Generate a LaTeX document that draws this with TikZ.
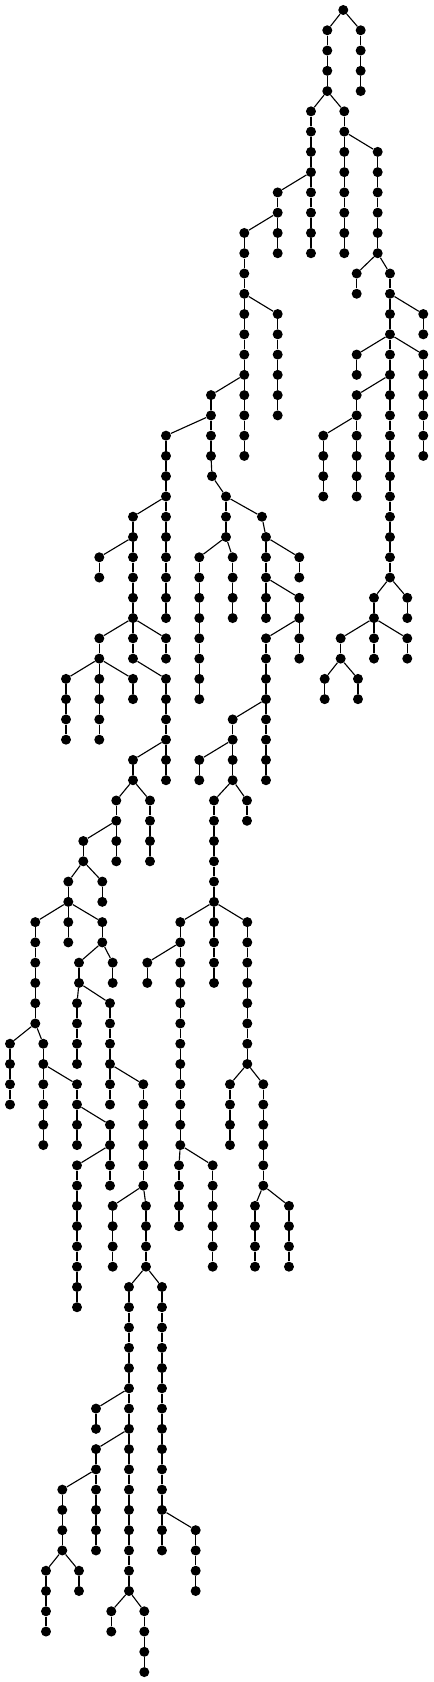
\documentclass[tikz,border=0pt]{standalone}
\usepackage{tikz}

\begin{document}
\begin{tikzpicture}[x=0.25mm,y=-5.0675mm,
  vtx/.style={circle,fill=black,inner sep=0pt,minimum size=2.5mm},
  link/.style={line width=0.8pt,black},
]
\useasboundingbox (0,-0.4933) rectangle (434,82.49);
\node[vtx] (r) at (343.3,0) {};
% chains: name / x / first level / last level / parent
\foreach \nm/\xx/\la/\lb/\pa in {
  c1/327.3/1/4/r, c2/360.7/1/4/r,
  c3/311/5/12/c1-4, c4/344.3/5/12/c1-4,
  c5/377.7/7/12/c4-6, c6/277.7/9/12/c3-8,
  c7/244.3/11/22/c6-10, c8/356.7/13/14/c5-12, c9/390/13/28/c5-12,
  c10/277.7/15/20/c7-14, c11/423.3/15/16/c9-14,
  c12/356.7/17/18/c9-16, c13/423.3/17/22/c9-16,
  c14/211/19/22/c7-18, c15/356.7/19/24/c9-18,
  c14b/212/23/23/c14-22, c14c/226/24/26/c14b-23,
  c16/166/21/30/c14-20, c17/323.3/21/24/c15-20,
  c18a/262/25/25/c14c-24, c18/266/26/30/c18a-25,
  c19/133/25/32/c16-24, c20/99.3/27/28/c19-26,
  c21/199.3/27/34/c14c-26, c22/232.7/27/30/c14c-26, c23/299.3/27/28/c18-26,
  c24/374/29/32/c9-28, c25/407.3/29/30/c9-28, c26/299.3/29/32/c18-28,
  c27/99.3/31/36/c19-30, c28/166/31/32/c19-30, c29/266/31/38/c26-30,
  c30/340.7/31/32/c24-30, c31/407.3/31/32/c24-30,
  c32/66/33/36/c27-32, c33/133/33/34/c27-32, c34/166/33/38/c19-32,
  c35/324.7/33/34/c30-32, c36/358/33/34/c30-32,
  c37/232.7/35/38/c29-34, c38/133/37/38/c34-36, c39/199.3/37/38/c37-36,
  c40/116.3/39/42/c38-38, c41/150/39/42/c38-38,
  c42/214/39/48/c37-38, c43/247/39/40/c37-38,
  c44/83.3/41/42/c40-40,
  c45/68.3/43/46/c44-42, c46/102.3/43/44/c44-42,
  c47/35.3/45/50/c45-44, c48/102.3/45/46/c45-44,
  c49/180.3/45/56/c42-44, c50/247.3/45/52/c42-44,
  c51/79/47/48/c48-46, c52/112.7/47/48/c48-46, c53/147.3/47/48/c49-46,
  c54/77/49/52/c51-48, c55/110/49/54/c51-48,
  c56/10/51/54/c47-50, c57/43.3/51/56/c47-50,
  c58/77/53/56/c57-52, c59/143.3/53/58/c55-52,
  c60/230/53/56/c50-52, c61/263.3/53/58/c50-52,
  c62/110/55/58/c58-54, c63/77/57/64/c62-56,
  c64/179/57/60/c49-56, c65/212.7/57/62/c49-56,
  c66/112.7/59/62/c59-58, c67/146/59/62/c59-58,
  c68/255/59/62/c61-58, c69/289/59/62/c61-58,
  c70/129/63/78/c67-62, c71/162/63/76/c67-62,
  c72/96/69/70/c70-68, c73/96/71/76/c70-70,
  c74/62.3/73/76/c73-72, c75/195.7/75/78/c71-74,
  c76/46/77/80/c74-76, c77/79/77/78/c74-76,
  c78/111.3/79/80/c70-78, c79/144.3/79/82/c70-78}{
  \foreach \lv in {\la,...,\lb}
    \node[vtx] (\nm-\lv) at (\xx,\lv) {};
  \draw[link] (\pa) -- (\nm-\la);
  \ifnum\la<\lb
    \pgfmathtruncatemacro\lq{\la+1}
    \foreach \lv [remember=\lv as \lp (initially \la)] in {\lq,...,\lb}
      \draw[link] (\nm-\lp) -- (\nm-\lv);
  \fi
}
\end{tikzpicture}
\end{document}
